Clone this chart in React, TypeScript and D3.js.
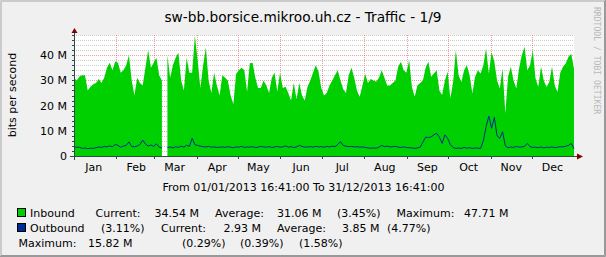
import React from 'react';
import * as d3 from 'd3';

// ---- data ----
const START = new Date(Date.UTC(2013, 0, 1, 16, 41));
const END = new Date(Date.UTC(2013, 11, 31, 16, 41));
const STEP_DAYS = 2;

// Inbound traffic, Mbit/s, one value every 2 days (NaN = gap in data)
const inbound: number[] = [
  31, 30, 31.5, 32, 32, 26, 27.5, 28.5, 29, 30.5,
  29, 31, 35, 37, 34, 37.5, 37, 33, 34, 36,
  40, 30, 24, 31, 29, 28, 35, 42, 35, 37,
  39, 32, 30, NaN, 40, 31, 36, 39, 41, 30,
  26, 39, 33, 33, 47.7, 38, 27, 36, 43, 30,
  25, 33, 28, 24, 32, 31, 30, 24, 20.5, 32.5,
  34, 35, 34, 25.5, 36.8, 37, 31, 27, 27, 30,
  28, 25, 31, 33, 25.5, 33, 27, 27.5, 25, 22,
  29, 22.5, 29, 24, 22, 27.5, 30, 33, 36, 33.5,
  27, 24, 25, 28, 30, 32, 34, 30, 26.5, 25,
  32, 35, 31, 26, 23.5, 28, 32.5, 29, 30.5, 30,
  29.5, 31, 34, 31, 28, 28, 29, 30, 35.4, 37.4,
  34, 33, 38, 27.4, 23.5, 28, 29, 30, 35, 37.4,
  31.4, 32.7, 34, 26, 24.2, 30, 33.4, 22.8, 29.4, 42,
  32, 29.4, 34, 36, 32, 24.8, 31.4, 34, 32.7, 36,
  42.6, 32.7, 41.3, 37.4, 30, 26.8, 34.7, 17, 31.4, 35.4,
  30, 26.8, 34.7, 40, 43.3, 34, 36, 42, 30.7, 27.4,
  35.4, 30, 27.4, 29.4, 35.4, 28, 25.4, 33, 35.4, 36.7,
  39.4, 40.6, 34.54,
];

// Outbound traffic, Mbit/s
const outbound: number[] = [
  3.7, 3.4, 3.5, 3.0, 3.2, 2.9, 3.1, 3.0, 3.3, 3.6,
  3.4, 3.8, 3.6, 4.0, 3.7, 4.6, 4.2, 3.5, 3.9, 4.2,
  5.6, 3.8, 3.6, 4.0, 4.5, 6.3, 4.8, 3.9, 4.4, 3.8,
  4.8, 3.5, 3.2, NaN, 3.3, 3.6, 3.2, 3.7, 3.4, 3.9,
  3.5, 4.3, 3.8, 7.0, 4.5, 4.2, 3.9, 3.7, 3.6, 3.8,
  3.5, 3.6, 3.4, 3.5, 3.6, 3.4, 3.7, 3.5, 3.3, 3.6,
  3.5, 3.8, 3.4, 3.6, 3.5, 3.7, 3.4, 3.5, 3.8, 3.6,
  3.5, 3.7, 3.4, 3.6, 3.8, 3.5, 3.6, 4.0, 3.5, 3.7,
  3.4, 3.6, 4.2, 3.8, 3.5, 3.6, 3.7, 3.5, 3.8, 3.6,
  3.7, 3.5, 3.8, 3.6, 3.9, 3.7, 4.5, 5.7, 4.2, 3.9,
  3.7, 3.8, 3.6, 3.7, 3.5, 3.6, 3.4, 3.2, 3.1, 3.2,
  3.1, 3.5, 4.2, 3.7, 3.9, 3.6, 3.7, 3.8, 3.5, 3.4,
  3.6, 3.4, 3.3, 3.2, 3.0, 3.2, 3.5, 5.5, 7.5, 7.3,
  7.6, 8.4, 9.0, 7.5, 5.0, 8.4, 7.0, 4.5, 3.4, 3.0,
  3.2, 3.0, 3.4, 3.1, 3.3, 3.0, 3.2, 3.1, 3.0, 6.0,
  11.6, 15.82, 11.0, 15.3, 8.0, 7.0, 9.6, 4.0, 3.3, 3.6,
  3.4, 3.8, 3.5, 3.6, 3.8, 5.0, 3.7, 3.4, 3.5, 3.3,
  3.6, 3.2, 3.5, 3.4, 3.6, 3.3, 3.5, 3.7, 3.6, 3.9,
  4.2, 5.0, 2.93,
];

const monthLabels = ['Jan', 'Feb', 'Mar', 'Apr', 'May', 'Jun', 'Jul', 'Aug', 'Sep', 'Oct', 'Nov', 'Dec'];
const yMinorTicks = [2, 4, 6, 8, 12, 14, 16, 18, 22, 24, 26, 28, 32, 34, 36, 38, 42, 44, 46, 48];
const yMajorTicks = [0, 10, 20, 30, 40];
const yMajorLabels = ['0', '10 M', '20 M', '30 M', '40 M'];

const title = 'sw-bb.borsice.mikroo.uh.cz - Traffic - 1/9';
const yTitle = 'bits per second';
const periodText = 'From 01/01/2013 16:41:00 To 31/12/2013 16:41:00';
const watermark = 'RRDTOOL / TOBI OETIKER';
const legendRow1 = ['Inbound', 'Current:', '34.54 M', 'Average:', '31.06 M', '(3.45%)', 'Maximum:', '47.71 M'];
const legendRow2 = ['Outbound', '(3.11%)', 'Current:', '2.93 M', 'Average:', '3.85 M', '(4.77%)'];
const legendRow3 = ['Maximum:', '15.82 M', '(0.29%)', '(0.39%)', '(1.58%)'];

// ---- layout ----
const W = 606;
const H = 257;
const L = 74, R = 574, T = 35, B = 156;
const row1X = [30, 95.5, 154.5, 215, 277, 337, 396.5, 464];
const row2X = [30, 101, 161, 223.5, 277, 342, 387];
const row3X = [18.5, 88, 182, 240, 299];

const GREEN = '#00CF00';
const BLUE = '#002A97';
const FONT = 'DejaVu Sans, sans-serif';

export default function App() {
  const x = d3.scaleUtc().domain([START, END]).range([L, R]);
  const y = d3.scaleLinear().domain([0, 48]).range([B, T]);
  const dates = inbound.map((_, i) => d3.utcDay.offset(START, i * STEP_DAYS));

  const area = d3
    .area<number>()
    .defined((v) => Number.isFinite(v))
    .x((_, i) => x(dates[i]))
    .y0(y(0))
    .y1((v) => y(v));
  const line = d3
    .line<number>()
    .defined((v) => Number.isFinite(v))
    .x((_, i) => x(dates[i]))
    .y((v) => y(v));

  const monthStarts = d3.utcMonth.range(d3.utcMonth.ceil(START), END);
  const labelDates = monthLabels.map((_, i) => d3.utcDay.offset(new Date(Date.UTC(2013, i, 1)), 15));

  const px = (v: number) => Math.round(v) + 0.5;
  const row1Y = 217, row2Y = 232, row3Y = 247;

  return (
    <svg
      width={W}
      height={H}
      style={{ position: 'absolute', left: 0, top: 0, display: 'block' }}
      fontFamily={FONT}
    >
      <rect x={0} y={0} width={W} height={H} fill="#F0F0F0" />
      {/* shading border */}
      <path d={`M0.5,${H} V0.5 H${W}`} stroke="#CBCBCB" fill="none" />
      <path d={`M1.5,${H - 1} V1.5 H${W - 1}`} stroke="#CBCBCB" fill="none" />
      <path d={`M0,${H - 0.5} H${W - 0.5} V0`} stroke="#999999" fill="none" />
      <path d={`M1,${H - 1.5} H${W - 1.5} V1`} stroke="#999999" fill="none" />

      {/* canvas */}
      <rect x={L} y={T} width={R - L} height={B - T} fill="#FFFFFF" />

      {/* grid */}
      {yMinorTicks.map((v) => (
        <line key={'mi' + v} x1={L} x2={R} y1={px(y(v))} y2={px(y(v))}
          stroke="#8F8F8F" strokeOpacity={0.45} strokeDasharray="1,1" />
      ))}
      {yMajorTicks.slice(1).map((v) => (
        <line key={'ma' + v} x1={L} x2={R} y1={px(y(v))} y2={px(y(v))}
          stroke="#E0504F" strokeOpacity={0.55} strokeDasharray="1,1" />
      ))}
      {monthStarts.map((d) => (
        <line key={'mv' + d.getTime()} x1={px(x(d))} x2={px(x(d))} y1={T} y2={B}
          stroke="#E0504F" strokeOpacity={0.55} strokeDasharray="1,1" />
      ))}

      {/* data */}
      <path d={area(inbound) || ''} fill={GREEN} />
      <path d={line(outbound) || ''} fill="none" stroke={BLUE} strokeWidth={1} />

      {/* axes */}
      <line x1={L - 4} x2={R + 4} y1={B + 0.5} y2={B + 0.5} stroke="#2C4D43" />
      <line x1={L + 0.5} x2={L + 0.5} y1={B + 4} y2={T - 3} stroke="#2C4D43" />
      {yMajorTicks.concat(yMinorTicks).map((v) => (
        <line key={'yt' + v} x1={L - 2} x2={L} y1={px(y(v))} y2={px(y(v))} stroke="#2C4D43" />
      ))}
      {monthStarts.map((d) => (
        <line key={'xt' + d.getTime()} x1={px(x(d))} x2={px(x(d))} y1={B} y2={B + 3} stroke="#2C4D43" />
      ))}
      <path d={`M${R + 3},${B - 2.5} L${R + 9},${B + 0.5} L${R + 3},${B + 3.5} Z`} fill="#7F0000" />
      <path d={`M${L - 2.5},${T - 2} L${L + 0.5},${T - 7} L${L + 3.5},${T - 2} Z`} fill="#7F0000" />

      {/* y labels */}
      {yMajorTicks.map((v, i) => (
        <text key={'yl' + v} x={67} y={y(v) + 4} fontSize={11} textAnchor="end" fill="#000">
          {yMajorLabels[i]}
        </text>
      ))}
      {/* x labels */}
      {labelDates.map((d, i) => (
        <text key={'xl' + i} x={x(d)} y={171} fontSize={11} textAnchor="middle" fill="#000">
          {monthLabels[i]}
        </text>
      ))}

      {/* titles */}
      <text x={303} y={22} fontSize={13.7} textAnchor="middle" fill="#000">{title}</text>
      <text transform="translate(16,95) rotate(-90)" fontSize={11} textAnchor="middle" fill="#000">
        {yTitle}
      </text>
      <text x={303.5} y={191} fontSize={11} textAnchor="middle" fill="#000">{periodText}</text>
      <text transform="translate(594,7) rotate(90)" fontSize={8.1} fontFamily="DejaVu Sans Mono, monospace"
        fill="#B8B8B8">
        {watermark}
      </text>

      {/* legend */}
      <rect x={17.5} y={row1Y - 8.5} width={8} height={8} fill={GREEN} stroke="#000" strokeWidth={1} />
      <rect x={17.5} y={row2Y - 8.5} width={8} height={8} fill={BLUE} stroke="#000" strokeWidth={1} />
      {legendRow1.map((s, i) => (
        <text key={'l1' + i} x={row1X[i]} y={row1Y} fontSize={11} fill="#000">{s}</text>
      ))}
      {legendRow2.map((s, i) => (
        <text key={'l2' + i} x={row2X[i]} y={row2Y} fontSize={11} fill="#000">{s}</text>
      ))}
      {legendRow3.map((s, i) => (
        <text key={'l3' + i} x={row3X[i]} y={row3Y} fontSize={11} fill="#000">{s}</text>
      ))}
    </svg>
  );
}
